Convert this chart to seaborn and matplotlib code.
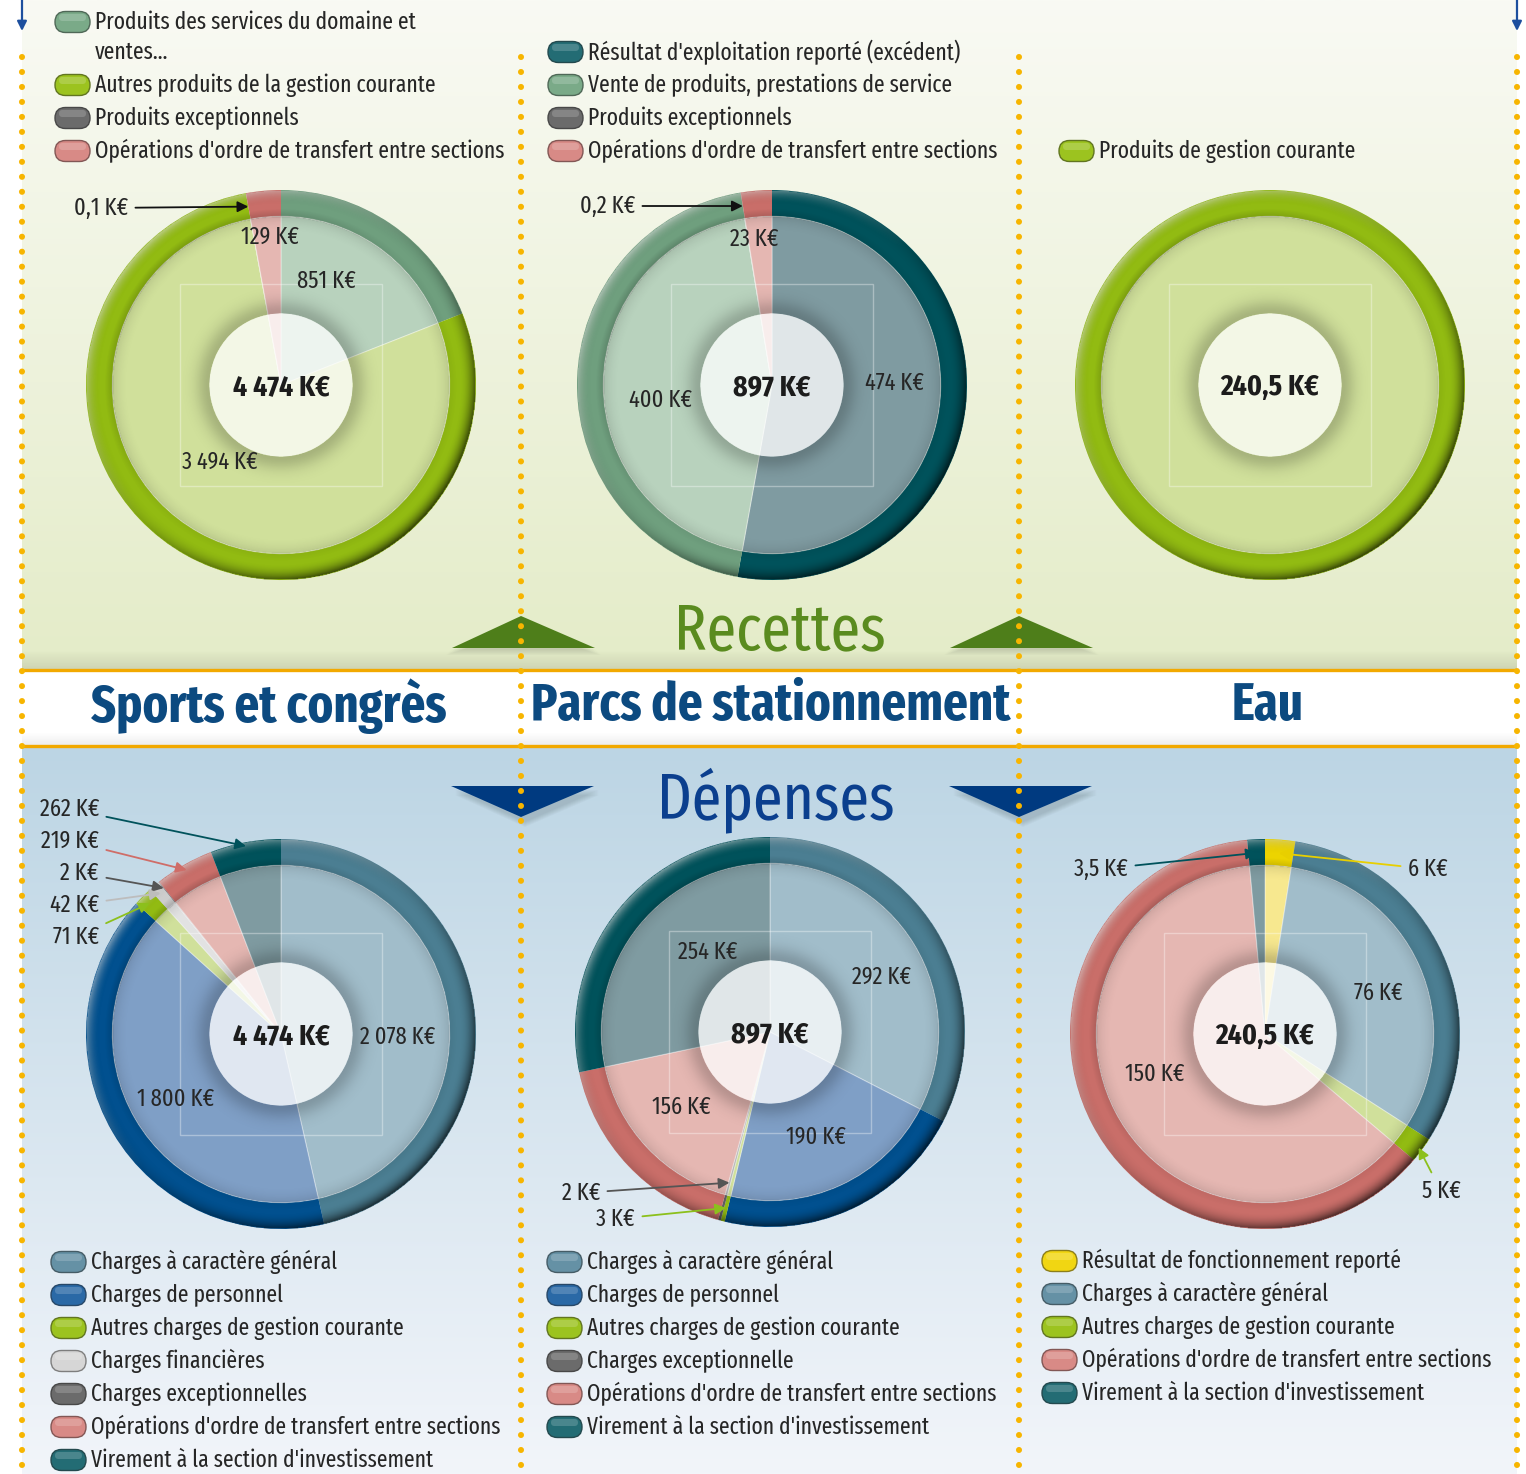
import numpy as np
import matplotlib
matplotlib.use("Agg")
import matplotlib.pyplot as plt
import seaborn as sns
from matplotlib.patches import Circle, Rectangle, Polygon, FancyBboxPatch
from matplotlib.colors import to_rgb

# ------------------------------------------------------------------ data
sections = ["Sports et congrès", "Parcs de stationnement", "Eau"]

sports_rec_labels = ["Produits des services du domaine et\nventes...",
                     "Autres produits de la gestion courante",
                     "Produits exceptionnels",
                     "Opérations d'ordre de transfert entre sections"]
sports_rec_values = [851, 3494, 0.1, 129]

parcs_rec_labels = ["Résultat d'exploitation reporté (excédent)",
                    "Vente de produits, prestations de service",
                    "Produits exceptionnels",
                    "Opérations d'ordre de transfert entre sections"]
parcs_rec_values = [474, 400, 0.2, 23]

eau_rec_labels = ["Produits de gestion courante"]
eau_rec_values = [240.5]

sports_dep_labels = ["Charges à caractère général", "Charges de personnel",
                     "Autres charges de gestion courante", "Charges financières",
                     "Charges exceptionnelles",
                     "Opérations d'ordre de transfert entre sections",
                     "Virement à la section d'investissement"]
sports_dep_values = [2078, 1800, 71, 42, 2, 219, 262]

parcs_dep_labels = ["Charges à caractère général", "Charges de personnel",
                    "Autres charges de gestion courante", "Charges exceptionnelle",
                    "Opérations d'ordre de transfert entre sections",
                    "Virement à la section d'investissement"]
parcs_dep_values = [292, 190, 3, 2, 156, 254]

eau_dep_labels = ["Résultat de fonctionnement reporté", "Charges à caractère général",
                  "Autres charges de gestion courante",
                  "Opérations d'ordre de transfert entre sections",
                  "Virement à la section d'investissement"]
eau_dep_values = [6, 76, 5, 150, 3.5]

# ------------------------------------------------------------------ style
sns.set_theme(style="white")
FONT = ['Fira Sans Condensed', 'PT Sans Narrow', 'Roboto Condensed', 'DejaVu Sans']
FONT_XC = ['Fira Sans Extra Condensed', 'Fira Sans Condensed', 'DejaVu Sans']
plt.rcParams['font.family'] = FONT

PAL = {  # key: (ring, inner, legend pill)
    'services': ('#6f9f7e', '#b8d2bd', '#7aaa88'),
    'lime': ('#92bb12', '#d0e09b', '#9cc31f'),
    'grey': ('#5f5f5f', '#b5b5b5', '#6b6b6b'),
    'pink': ('#c96e69', '#e5b7b2', '#d88a86'),
    'teal': ('#00525b', '#7f9ba1', '#236c74'),
    'general': ('#4b7e92', '#a1bdca', '#6591a5'),
    'personnel': ('#01508f', '#7f9fc6', '#2a69a6'),
    'light': ('#cdcdcd', '#e2e2e2', '#d6d6d6'),
    'yellow': ('#ecd400', '#f7e88f', '#f1d612'),
}
KEY = {
    "Produits des services du domaine et\nventes...": 'services',
    "Autres produits de la gestion courante": 'lime',
    "Produits exceptionnels": 'grey',
    "Opérations d'ordre de transfert entre sections": 'pink',
    "Résultat d'exploitation reporté (excédent)": 'teal',
    "Vente de produits, prestations de service": 'services',
    "Produits de gestion courante": 'lime',
    "Charges à caractère général": 'general',
    "Charges de personnel": 'personnel',
    "Autres charges de gestion courante": 'lime',
    "Charges financières": 'light',
    "Charges exceptionnelles": 'grey',
    "Charges exceptionnelle": 'grey',
    "Virement à la section d'investissement": 'teal',
    "Résultat de fonctionnement reporté": 'yellow',
}

TXT = '#262626'


def fmt(v):
    if float(v).is_integer():
        s = f"{int(v):,}".replace(",", "\u2009")
    else:
        s = f"{v:.1f}".replace(".", ",")
    return s + "\u2009K€"


def fmt_total(v):
    if abs(v - round(v)) < 0.3:
        return fmt(round(v))
    return fmt(v)


W, H = 1526, 1474
fig = plt.figure(figsize=(W / 100, H / 100), dpi=100)
fig.patch.set_facecolor('white')
bg = fig.add_axes([0, 0, 1, 1])
bg.axis('off')


def vgrad(ax, x0, x1, y0, y1, c0, c1, a0=1.0, a1=1.0, z=0):
    c0 = np.array(to_rgb(c0)); c1 = np.array(to_rgb(c1))
    t = np.linspace(0, 1, 256)[:, None]
    rgb = c0 * (1 - t) + c1 * t
    a = a0 * (1 - t) + a1 * t
    img = np.concatenate([rgb, a], axis=1)[:, None, :]
    ax.imshow(img, extent=(x0, x1, y1, y0), aspect='auto', zorder=z,
              interpolation='bilinear', origin='upper')


# bands
vgrad(bg, 22, 1517, 0, 669, '#f9faf4', '#e4ecc8')
vgrad(bg, 22, 1517, 650, 669, '#000000', '#000000', 0.0, 0.10, z=0.5)
vgrad(bg, 22, 1517, 746, 1474, '#bcd5e4', '#f2f5fa')
vgrad(bg, 22, 1517, 732, 745, '#000000', '#000000', 0.0, 0.07, z=0.5)
bg.plot([22, 1517], [669.5, 669.5], color='#f2a900', lw=2.4, zorder=2)
bg.plot([22, 1517], [745.5, 745.5], color='#f2a900', lw=2.4, zorder=2)

# dotted separators
for x in [22, 521, 1019, 1517]:
    bg.plot([x, x], [57, 1474], color='#f7b500', lw=4.4,
            linestyle=(0, (0.001, 2.45)), dash_capstyle='round', zorder=3)
for x in [22, 1517]:
    bg.annotate('', xy=(x, 31), xytext=(x, 0),
                arrowprops=dict(arrowstyle='-|>', color='#1d4f9e', lw=1.6,
                                mutation_scale=14, shrinkA=0, shrinkB=0))

# triangles
for xa in [521, 1019]:
    for k in range(6):
        bg.add_patch(Polygon([(xa - 70 - k, 650 + k), (xa + 75 + k, 650 + k),
                              (xa + 2, 630)], closed=True, fc='black',
                             ec='none', alpha=0.025, zorder=1))
    bg.add_patch(Polygon([(xa - 69, 648), (xa, 616), (xa + 74, 648)], closed=True,
                         fc='#4e7e1a', ec='none', zorder=2))
    for k in range(6):
        bg.add_patch(Polygon([(xa - 66, 790 + k), (xa + 78, 790 + k),
                              (xa + 4, 822 + k)], closed=True, fc='black',
                             ec='none', alpha=0.025, zorder=1))
    bg.add_patch(Polygon([(xa - 70, 786), (xa + 73, 786), (xa, 817)], closed=True,
                         fc='#003a80', ec='none', zorder=2))

bg.text(780, 632, "Recettes", ha='center', va='center', fontsize=46.8,
        family=FONT_XC, color='#5a8b1f', zorder=4)
bg.text(776, 800, "Dépenses", ha='center', va='center', fontsize=46.8,
        family=FONT_XC, color='#0b3f8e', zorder=4)
for name, xc in zip(sections, [269, 771, 1268]):
    bg.text(xc, 706, name, ha='center', va='center', fontsize=38,
            family=FONT_XC, fontweight='bold', color='#0c4a80', zorder=4)


# legends
def legend(labels, x_text, y_first, top_down=True, step=33, cont=30):
    rows = []
    for lab in labels:
        rows.append((lab, lab.split("\n")))
    if not top_down:
        total = sum(step + cont * (len(l) - 1) for _, l in rows) - step
        y = y_first - total
    else:
        y = y_first
    for lab, lines in rows:
        col = PAL[KEY[lab]][2]
        bg.add_patch(FancyBboxPatch((x_text - 40, y - 10.5), 35, 21,
                                    boxstyle="round,pad=0,rounding_size=10.5",
                                    fc=col, ec=sns.dark_palette(col, 3)[1],
                                    lw=1.0, zorder=4))
        bg.add_patch(FancyBboxPatch((x_text - 36, y - 8), 27, 7,
                                    boxstyle="round,pad=0,rounding_size=3.5",
                                    fc='white', ec='none', alpha=0.18, zorder=4))
        for i, ln in enumerate(lines):
            bg.text(x_text, y + i * cont, ln, ha='left', va='center',
                    fontsize=16.9, family=FONT_XC, color=TXT, zorder=4)
        y += step + cont * (len(lines) - 1)


legend(sports_rec_labels, 95, 151, top_down=False)
legend(parcs_rec_labels, 588, 151, top_down=False)
legend(eau_rec_labels, 1099, 151, top_down=False)
legend(sports_dep_labels, 91, 1262)
legend(parcs_dep_labels, 587, 1262)
legend(eau_dep_labels, 1082, 1261)

bg.set_xlim(0, W)
bg.set_ylim(H, 0)

# ------------------------------------------------------------------ pies
R = 195.0
HALF = 300.0
R_IN = 0.865
R_C = 0.367

N = 500
g = np.linspace(-1, 1, N)
X, Y = np.meshgrid(g, -g)
RR = np.hypot(X, Y)
TH = np.arctan2(Y, X)
u = np.clip((RR - R_IN) / (1 - R_IN), 0, 1)
inring = (RR >= R_IN - 0.002) & (RR <= 1.0)
dirBR = np.clip(np.cos(TH + np.pi / 4), 0, 1)
dirUL = np.clip(np.cos(TH - 3 * np.pi / 4), 0, 1)
dark = np.where(inring, 0.7 * np.clip((u - 0.4) / 0.6, 0, 1) ** 2 * (0.2 + 0.8 * dirBR), 0)
dark += np.where(inring, 0.18 * np.clip(1 - u / 0.3, 0, 1) * (0.3 + 0.7 * dirUL), 0)
dark += np.where((RR > R_C) & (RR < R_IN), 0.2 * np.exp(-((RR - R_C) / 0.07) ** 2), 0)
dark += np.where((RR < R_IN) & (RR > R_C), 0.10 * np.clip((RR - 0.78) / 0.085, 0, 1) ** 2, 0)
light = np.where(inring, 0.5 * np.clip((u - 0.5) / 0.5, 0, 1) ** 2 * dirUL, 0)
dark_img = np.zeros((N, N, 4)); dark_img[..., 3] = np.clip(dark, 0, 1)
light_img = np.ones((N, N, 4)); light_img[..., 3] = np.clip(light, 0, 1)


def draw_pie(labels, values, center, inside, outside):
    cx, cy = center
    ax = fig.add_axes([(cx - HALF) / W, 1 - (cy + HALF) / H, 2 * HALF / W, 2 * HALF / H])
    ax.patch.set_alpha(0)
    keys = [KEY[l] for l in labels]
    ring_cols = [PAL[k][0] for k in keys]
    inner_cols = [PAL[k][1] for k in keys]
    wedges, _ = ax.pie(values, radius=1.0, colors=ring_cols, startangle=90,
                       counterclock=False,
                       wedgeprops=dict(width=1 - R_IN, edgecolor='none', linewidth=0))
    ax.pie(values, radius=R_IN, colors=inner_cols, startangle=90, counterclock=False,
           wedgeprops=dict(edgecolor=(1, 1, 1, 0.35), linewidth=0.8))
    ax.imshow(dark_img, extent=(-1, 1, -1, 1), zorder=3, interpolation='bilinear')
    ax.imshow(light_img, extent=(-1, 1, -1, 1), zorder=3, interpolation='bilinear')
    ax.add_patch(Rectangle((-0.52, -0.52), 1.04, 1.04, fill=False, ec='white',
                           alpha=0.35, lw=1, zorder=3.5))
    ax.add_patch(Circle((0, 0), R_C, fc='white', ec='none', alpha=0.76, zorder=4))

    def to_data(p):
        return ((p[0] - cx) / R, (cy - p[1]) / R)

    for i, p in inside.items():
        ax.text(*to_data(p), fmt(values[i]), ha='center', va='center',
                fontsize=17.5, family=FONT_XC, color=TXT, zorder=6)
    for i, (p, ha, rt, col) in outside.items():
        w = wedges[i]
        ang = np.deg2rad((w.theta1 + w.theta2) / 2)
        tgt = (rt * np.cos(ang), rt * np.sin(ang))
        ax.annotate(fmt(values[i]), xy=tgt, xytext=to_data(p), ha=ha, va='center',
                    fontsize=17.5, family=FONT_XC, color=TXT, zorder=7,
                    annotation_clip=False,
                    arrowprops=dict(arrowstyle='-|>', color=col, lw=1.3,
                                    mutation_scale=16, shrinkA=3, shrinkB=0))
    ax.text(0, -0.01, fmt_total(sum(values)), ha='center', va='center', fontsize=21.5,
            family=FONT_XC, fontweight='bold', color='#1c1c1c', zorder=6)
    ax.set_xlim(-HALF / R, HALF / R)
    ax.set_ylim(-HALF / R, HALF / R)
    ax.set_aspect('equal')
    ax.axis('off')


draw_pie(sports_rec_labels, sports_rec_values, (281, 385),
         {0: (326, 281), 1: (220, 462), 3: (270, 237)},
         {2: ((128, 208), 'right', 0.93, '#111111')})
draw_pie(parcs_rec_labels, parcs_rec_values, (772, 385),
         {0: (895, 383), 1: (661, 400), 3: (754, 239)},
         {2: ((635, 206), 'right', 0.93, '#111111')})
draw_pie(eau_rec_labels, eau_rec_values, (1270, 385), {}, {})
draw_pie(sports_dep_labels, sports_dep_values, (281, 1034),
         {0: (398, 1037), 1: (176, 1099)},
         {6: ((99, 809), 'right', 0.98, '#00525b'),
          5: ((99, 841), 'right', 0.97, '#cf6d68'),
          4: ((99, 873), 'right', 0.96, '#555555'),
          3: ((99, 905), 'right', 0.95, '#bdbdbd'),
          2: ((99, 937), 'right', 0.95, '#8cc01c')})
draw_pie(parcs_dep_labels, parcs_dep_values, (770, 1032),
         {0: (882, 977), 1: (816, 1137), 4: (681, 1107), 5: (708, 952)},
         {3: ((600, 1193), 'right', 0.80, '#555555'),
          2: ((635, 1219), 'right', 0.93, '#8cc01c')})
draw_pie(eau_dep_labels, eau_dep_values, (1265, 1034),
         {1: (1378, 993), 3: (1155, 1074)},
         {4: ((1128, 869), 'right', 0.93, '#00525b'),
          0: ((1408, 869), 'left', 0.93, '#e8cf00'),
          2: ((1441, 1191), 'center', 0.98, '#8cc01c')})

fig.savefig("out.png", dpi=100, facecolor='white')
